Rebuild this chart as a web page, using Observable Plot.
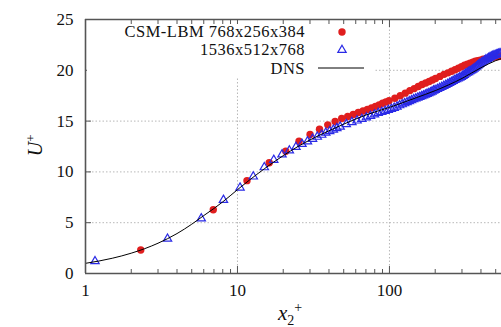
<!DOCTYPE html>
<html>
<head>
<meta charset="utf-8">
<script src="https://cdn.jsdelivr.net/npm/d3@7"></script>
<script src="https://cdn.jsdelivr.net/npm/@observablehq/plot@0.6"></script>
<style>
  html, body { margin: 0; padding: 0; background: white; overflow: hidden; }
  #wrap { position: relative; width: 501px; height: 327px; overflow: hidden; font-family: "Liberation Serif", "DejaVu Serif", serif; color: #111; }
  #wrap svg { position: absolute; left: 0; top: 0; }
  #wrap svg text { font-family: "Liberation Serif", serif; }
  .ov { position: absolute; }
</style>
</head>
<body>
<div id="wrap"></div>
<script>
// ---- data ----
// CSM-LBM 768x256x384 (red filled circles)
const redX = [2.31, 6.93, 11.55, 16.17, 20.79, 25.41, 30.03, 34.65, 39.27, 43.89, 48.51,
  53.13, 57.75, 62.37, 66.99, 71.61, 76.23, 80.85, 85.47, 90.09, 94.71, 99.33,
  108.57, 117.81, 127.05, 136.29, 145.53, 154.77, 164.01, 173.25, 182.49, 191.73, 200.97,
  214.83, 228.69, 242.55, 256.41, 270.27, 284.13, 297.99, 311.85, 325.71, 339.57, 353.43,
  367.29, 381.15, 395.01, 413.49, 431.97, 450.45, 468.93, 487.41, 505.89, 524.37, 542.85];
const redU = [2.31, 6.28, 9.14, 10.9, 12.03, 13.02, 13.68, 14.2, 14.63, 14.96, 15.25,
  15.45, 15.65, 15.85, 16.0, 16.15, 16.3, 16.45, 16.6, 16.75, 16.88, 17.0,
  17.25, 17.5, 17.75, 18.0, 18.2, 18.4, 18.6, 18.75, 18.9, 19.05, 19.2,
  19.4, 19.6, 19.75, 19.9, 20.05, 20.2, 20.35, 20.5, 20.6, 20.7, 20.8,
  20.9, 20.95, 21.0, 21.1, 21.15, 21.2, 21.25, 21.3, 21.33, 21.36, 21.4];
// CSM-LBM 1536x512x768 (blue open triangles)
const blueX = [1.155, 3.465, 5.775, 8.085, 10.395, 12.705, 15.015, 17.325, 19.635, 21.945,
  24.255, 26.565, 28.875, 31.185, 33.495, 35.805, 38.115, 40.425, 42.735, 45.045,
  47.355, 51.975, 56.595, 61.215, 65.835, 70.455, 75.075, 79.695, 84.315, 88.935, 93.555, 98.175,
  102.795, 107.415, 112.035, 116.655, 121.275, 125.895, 130.515, 135.135, 139.755, 144.375, 148.995,
  153.615, 158.235, 162.855, 167.475, 172.095, 176.715, 181.335, 185.955, 190.575, 195.195, 199.815,
  206.745, 213.675, 220.605, 227.535, 234.465, 241.395, 248.325, 255.255, 262.185, 269.115, 276.045,
  282.975, 289.905, 296.835, 303.765, 310.695, 317.625, 324.555, 331.485, 338.415, 345.345, 352.275,
  359.205, 366.135, 373.065, 379.995, 386.925, 393.855,
  403.095, 412.335, 421.575, 430.815, 440.055, 449.295, 458.535, 467.775, 477.015, 486.255, 495.495,
  504.735, 513.975, 523.215, 532.455, 541.695];
const blueU = [1.2, 3.42, 5.42, 7.24, 8.45, 9.54, 10.45, 11.18, 11.72, 12.1,
  12.45, 12.75, 13.0, 13.25, 13.45, 13.65, 13.85, 14.0, 14.15, 14.3,
  14.45, 14.7, 14.9, 15.05, 15.2, 15.35, 15.5, 15.65, 15.8, 15.9, 16.0, 16.1,
  16.2, 16.3, 16.42, 16.55, 16.65, 16.75, 16.85, 16.95, 17.05, 17.15, 17.22,
  17.3, 17.38, 17.45, 17.52, 17.6, 17.68, 17.75, 17.82, 17.9, 18.0, 18.05,
  18.15, 18.25, 18.35, 18.45, 18.55, 18.65, 18.75, 18.85, 18.95, 19.05, 19.12,
  19.2, 19.28, 19.35, 19.45, 19.55, 19.65, 19.75, 19.82, 19.9, 19.98, 20.05,
  20.15, 20.25, 20.35, 20.45, 20.55, 20.65,
  20.75, 20.85, 20.95, 21.05, 21.12, 21.2, 21.28, 21.35, 21.4, 21.45, 21.5,
  21.55, 21.58, 21.62, 21.65, 21.68];
// DNS (black line)
const dnsX = [1, 1.5, 2, 3, 4, 5, 6, 7, 8, 10, 12, 15, 20, 25, 30, 40, 50, 70, 100, 150, 200, 300, 400, 500, 560];
const dnsU = [1.0, 1.5, 2.0, 2.98, 3.93, 4.85, 5.7, 6.4, 7.05, 8.25, 9.2, 10.3, 11.6, 12.5, 13.15, 14.05, 14.7, 15.6, 16.35, 17.3, 18.0, 19.2, 20.25, 20.95, 21.2];

const xTicks = [1, 10, 100];
const xMinor = [2, 3, 4, 5, 6, 7, 8, 9, 20, 30, 40, 50, 60, 70, 80, 90, 200, 300, 400, 500];
const yTicks = [0, 5, 10, 15, 20, 25];
const gridYTicks = [5, 10, 15, 20];
const gridXTicks = [10, 100];
const legendLabels = ["CSM-LBM 768x256x384", "1536x512x768", "DNS"];

const red = redX.map((x, i) => ({x, y: redU[i]}));
const blue = blueX.map((x, i) => ({x, y: blueU[i]}));
const dns = dnsX.map((x, i) => ({x, y: dnsU[i]}));

const serif = "'Liberation Serif', serif";
const axisColor = "#555";
const chart = Plot.plot({
  width: 501,
  height: 327,
  marginLeft: 85,
  marginRight: 0,
  marginTop: 19,
  marginBottom: 54,
  style: {fontFamily: serif, fontSize: "17px", color: "#111", background: "white", overflow: "hidden"},
  x: {type: "log", domain: [1, 546]},
  y: {domain: [0, 25]},
  marks: [
    Plot.gridY(gridYTicks, {stroke: "#b8b8b8", strokeOpacity: 1, strokeDasharray: "1.5,2", strokeWidth: 1}),
    Plot.gridX(gridXTicks, {stroke: "#b8b8b8", strokeOpacity: 1, strokeDasharray: "1.5,2", strokeWidth: 1}),
    Plot.dot(red, {x: "x", y: "y", r: 3.7, fill: "#e01e1e", stroke: "none"}),
    Plot.dot(blue, {x: "x", y: "y", symbol: "triangle", r: 3.1, stroke: "#2a2ae6", fill: "none", strokeWidth: 1.2}),
    Plot.line(dns, {x: "x", y: "y", stroke: "#000", strokeWidth: 1, curve: "monotone-x"}),
    Plot.ruleY([0, 25], {stroke: axisColor, strokeWidth: 1.6}),
    Plot.ruleX([1], {stroke: axisColor, strokeWidth: 1.6}),
    Plot.axisX(xTicks, {anchor: "bottom", tickSize: -7, fill: "none", stroke: axisColor, label: null}),
    Plot.axisX(xMinor, {anchor: "bottom", tickSize: -4, fill: "none", stroke: axisColor, label: null}),
    Plot.axisX(xTicks, {anchor: "top", tickSize: -7, fill: "none", stroke: axisColor, label: null}),
    Plot.axisX(xMinor, {anchor: "top", tickSize: -4, fill: "none", stroke: axisColor, label: null}),
    Plot.axisX(xTicks, {anchor: "bottom", tickSize: 0, tickPadding: 10, tickFormat: d => String(d), fontSize: 17, fontFamily: serif, fill: "#111", label: null}),
    Plot.axisY(yTicks, {anchor: "left", tickSize: -6, fill: "none", stroke: axisColor, label: null}),
    Plot.axisY(yTicks, {anchor: "left", tickSize: 0, tickPadding: 12, tickFormat: d => String(d), fontSize: 17, fontFamily: serif, fill: "#111", label: null})
  ]
});
const wrap = document.getElementById("wrap");
wrap.appendChild(chart);

// legend (white box over the gridlines)
const leg = document.createElement("div");
leg.className = "ov";
leg.style.cssText = "left:87px;top:24px;width:288px;height:53px;background:white;";
const rowCenters = [31.5, 50, 68.5];
legendLabels.forEach((lab, i) => {
  const t = document.createElement("div");
  t.className = "ov";
  t.textContent = lab;
  t.style.cssText = `right:${375 - 305}px;top:${rowCenters[i] - 24 - 9}px;line-height:18px;font-size:16.5px;letter-spacing:0.5px;white-space:nowrap;text-align:right;`;
  leg.appendChild(t);
});
const ns = "http://www.w3.org/2000/svg";
const ls = document.createElementNS(ns, "svg");
ls.setAttribute("width", 288); ls.setAttribute("height", 53);
ls.style.cssText = "position:absolute;left:0;top:0;overflow:visible;";
ls.innerHTML =
  `<circle cx="${342-87}" cy="${32-24}" r="3.7" fill="#e01e1e"/>` +
  `<path transform="translate(${342-87},${50-24})" d="${d3.symbol(d3.symbolTriangle, Math.PI*3.1*3.1)()}" fill="none" stroke="#2a2ae6" stroke-width="1.2"/>` +
  `<line x1="${318-87}" x2="${364-87}" y1="${68-24}" y2="${68-24}" stroke="#000" stroke-width="1"/>`;
leg.appendChild(ls);
wrap.appendChild(leg);

// axis titles
const yl = document.createElement("div");
yl.className = "ov";
yl.innerHTML = "<i>U</i><sup style='font-size:13px'>+</sup>";
yl.style.cssText = "left:22px;top:132px;font-size:20px;line-height:22px;transform:rotate(-90deg);transform-origin:center;white-space:nowrap;";
wrap.appendChild(yl);
const xl = document.createElement("div");
xl.className = "ov";
xl.innerHTML = "<i>x</i><sub style='font-size:14px'>2</sub><sup style='font-size:14px'>+</sup>";
xl.style.cssText = "left:278px;top:297px;font-size:21px;line-height:22px;white-space:nowrap;";
wrap.appendChild(xl);
</script>
</body>
</html>
